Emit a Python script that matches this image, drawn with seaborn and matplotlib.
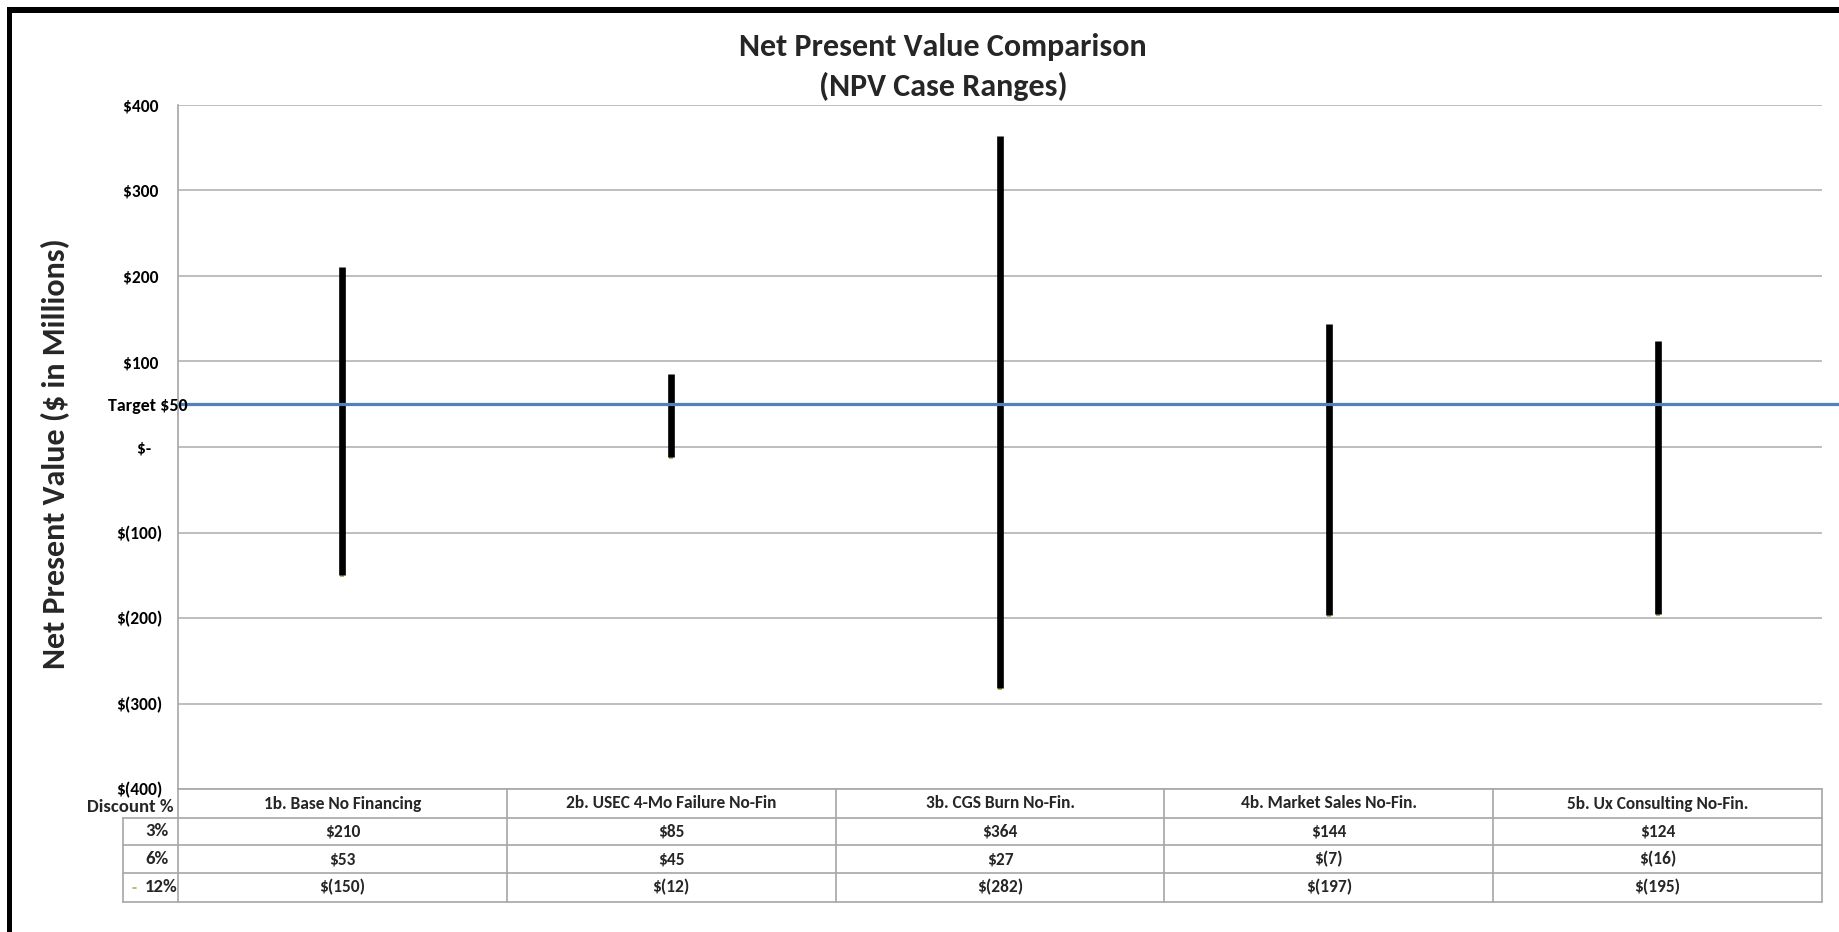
import matplotlib
matplotlib.use("Agg")
import matplotlib.pyplot as plt
import matplotlib.transforms as mtransforms
from matplotlib.patches import Rectangle
import pandas as pd
import seaborn as sns

# ---- data -------------------------------------------------------------
cases = [
    "1b. Base No Financing",
    "2b. USEC 4-Mo Failure No-Fin",
    "3b. CGS Burn No-Fin.",
    "4b. Market Sales No-Fin.",
    "5b. Ux Consulting No-Fin.",
]
rates = ["3%", "6%", "12%"]
npv_3 = [210, 85, 364, 144, 124]
npv_6 = [53, 45, 27, -7, -16]
npv_12 = [-150, -12, -282, -197, -195]
target_npv = 50
y_ticks = [400, 300, 200, 100, 0, -100, -200, -300, -400]

series = {"3%": npv_3, "6%": npv_6, "12%": npv_12}
df = pd.DataFrame(
    [{"case": c, "rate": r, "npv": series[r][i]} for i, c in enumerate(cases) for r in rates]
)


def money(v):
    if v == 0:
        return "$-"
    return f"${v}" if v > 0 else f"$({-v})"


# ---- figure setup -----------------------------------------------------
W, H = 1839, 932
sns.set_theme(style="white")
plt.rcParams["font.family"] = ["Carlito", "DejaVu Sans"]
plt.rcParams["font.weight"] = "bold"

fig = plt.figure(figsize=(W / 100, H / 100), dpi=100)
fig.patch.set_facecolor("white")


def fx(px):
    return px / W


def fy(py):
    return 1 - py / H


SMALL = 12.5
PL, PR, PT, PB = 178, 1822, 105, 789
ax = fig.add_axes([fx(PL), fy(PB), fx(PR) - fx(PL), fy(PT) - fy(PB)])

# range lines: one vertical segment per case, spanning the three discount rates
sns.lineplot(
    data=df, x="case", y="npv", units="case", estimator=None, sort=False,
    color="black", lw=4.8, ax=ax, legend=False, zorder=3,
)
for ln in ax.lines:
    ln.set_solid_capstyle("butt")

# small markers at the 12% values
sns.scatterplot(
    data=df[df["rate"] == "12%"], x="case", y="npv", marker="s", s=10,
    color="#9bbb59", linewidth=0, ax=ax, legend=False, zorder=2,
)

# target line
ax.plot([-0.5, 4.56], [target_npv, target_npv], color="#4f81bd", lw=2.3,
        clip_on=False, zorder=4, solid_capstyle="butt")

ax.set_xlim(-0.5, 4.5)
ax.set_ylim(-400, 400)
ax.set_xticks([])
ax.set_xlabel("")
ax.set_ylabel("")
ax.set_yticks(y_ticks)
pad_labels = []
for v in y_ticks:
    s = money(v)
    if v > 0:
        s += " "
    elif v == 0:
        s += "   "
    pad_labels.append(s)
ax.set_yticklabels(pad_labels, fontsize=SMALL, fontweight="bold", color="black")
ax.tick_params(axis="y", length=0, pad=11)
ax.yaxis.grid(True, color="#b3b3b3", lw=1.2)
ax.xaxis.grid(False)
for side in ["top", "right", "bottom"]:
    ax.spines[side].set_visible(False)
ax.spines["left"].set_color("#a6a6a6")
ax.spines["left"].set_linewidth(1.2)

ax.annotate("Target $50", xy=(-0.5, target_npv), xytext=(7, -1),
            textcoords="offset points", ha="right", va="center",
            fontsize=13, fontweight="bold", color="black", zorder=5)

# titles
fig.text(fx(943), fy(47), "Net Present Value Comparison", ha="center", va="center",
         fontsize=23, fontweight="bold")
fig.text(fx(943), fy(86), "(NPV Case Ranges)", ha="center", va="center",
         fontsize=23, fontweight="bold")
fig.text(fx(56), fy(454), "Net Present Value ($ in Millions)", ha="center",
         va="center", rotation=90, fontsize=23, fontweight="bold")

# ---- data table under the chart --------------------------------------
blend = mtransforms.blended_transform_factory(ax.transData, fig.transFigure)
grid_c = "#a6a6a6"
row_edges = [789, 818, 845, 873, 902]
LBL_L = 123


def fline(x0, x1, y0, y1):
    ax.plot([fx(x0), fx(x1)], [fy(y0), fy(y1)], transform=fig.transFigure,
            color=grid_c, lw=1.2, clip_on=False)


fline(PL, PR, row_edges[0], row_edges[0])
for ye in row_edges[1:]:
    fline(LBL_L, PR, ye, ye)
fline(LBL_L, LBL_L, row_edges[1], row_edges[-1])
fline(PL, PL, row_edges[0], row_edges[-1])
fline(PR, PR, row_edges[0], row_edges[-1])
for xb in [0.5, 1.5, 2.5, 3.5]:
    ax.plot([xb, xb], [fy(row_edges[0]), fy(row_edges[-1])], transform=blend,
            color=grid_c, lw=1.2, clip_on=False)

hdr_y = (row_edges[0] + row_edges[1]) / 2
fig.text(fx(174), fy(hdr_y + 3), "Discount %", ha="right", va="center",
         fontsize=13.5, fontweight="bold")
for i, c in enumerate(cases):
    ax.text(i, fy(hdr_y), c, transform=blend, ha="center", va="center",
            fontsize=SMALL, fontweight="bold")

for k, r in enumerate(rates):
    yc = (row_edges[k + 1] + row_edges[k + 2]) / 2
    fig.text(fx(145), fy(yc), r, ha="left", va="center", fontsize=13.5,
             fontweight="bold")
    for i in range(len(cases)):
        ax.text(i, fy(yc), money(series[r][i]), transform=blend, ha="center",
                va="center", fontsize=SMALL, fontweight="bold")
# legend key for the 12% series
yk = (row_edges[3] + row_edges[4]) / 2
ax.plot([fx(133), fx(136)], [fy(yk), fy(yk)], transform=fig.transFigure,
        color="#9bbb59", lw=1.2, clip_on=False)

# ---- outer frame --------------------------------------------------------
fig.add_artist(Rectangle((fx(7), fy(13)), 1 - fx(7), fy(7) - fy(13),
                         transform=fig.transFigure, color="black", lw=0))
fig.add_artist(Rectangle((fx(7), 0), fx(12) - fx(7), fy(7),
                         transform=fig.transFigure, color="black", lw=0))

fig.savefig("out.png", dpi=100, facecolor="white")
